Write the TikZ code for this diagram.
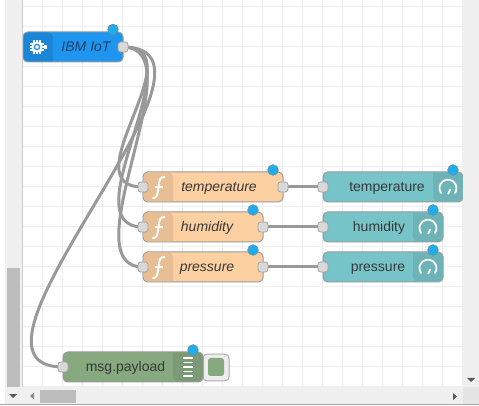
\documentclass[tikz,border=0pt]{standalone}
\usepackage{fontspec}
\setmainfont{Liberation Sans}
\pgfdeclarelayer{bg}
\pgfsetlayers{bg,main}
\definecolor{gridc}{HTML}{EEEEEE}
\definecolor{iotc}{HTML}{1E96F0}
\definecolor{iotd}{HTML}{1B86D8}
\definecolor{iott}{HTML}{1F3F66}
\definecolor{fnc}{HTML}{FDD0A2}
\definecolor{fnd}{HTML}{E8BE94}
\definecolor{gac}{HTML}{77C4C8}
\definecolor{gad}{HTML}{6DB3B7}
\definecolor{dbc}{HTML}{87A980}
\definecolor{dbd}{HTML}{7B9A75}
\definecolor{edgec}{HTML}{999999}
\definecolor{portc}{HTML}{D9D9D9}
\definecolor{wirec}{HTML}{999999}
\definecolor{badgec}{HTML}{1FADEF}
\definecolor{sbar}{HTML}{F0F0F0}
\definecolor{sthumb}{HTML}{BDBDBD}
\tikzset{
  x=0.75pt,y=-0.75pt,
  flowbox/.style={draw=edgec,line width=0.75pt,rounded corners=3.5pt,minimum height=22.5pt,inner sep=0pt},
  portbox/.style={draw=edgec!90,fill=portc,line width=0.6pt,rounded corners=2pt,minimum size=7.5pt,inner sep=0pt},
  badge/.style={circle,fill=badgec,draw=gray!70!badgec,line width=0.4pt,minimum size=8pt,inner sep=0pt},
  lab/.style={font=\fontsize{10.5}{12}\selectfont,text=black!78,inner sep=0pt,anchor=base},
  ilab/.style={lab,font=\fontsize{10.5}{12}\selectfont\itshape},
  wire/.style={draw=wirec,line width=2.25pt},
  icw/.style={draw=white,line width=1.3pt,line cap=round},
}
\newcommand{\iconL}[5]{\fill[#1,rounded corners=3.5pt] (#3,#5) -- (#2,#5) -- (#2,#4) -- (#3,#4) [sharp corners] -- cycle;}
\begin{document}
\begin{tikzpicture}
\useasboundingbox (0,0) rectangle (479,406);
% boxes
\node[flowbox,fill=iotc,minimum width=75pt] (iot) at (73,47) {};
\node[flowbox,fill=fnc,minimum width=105pt] (ft) at (213,187) {};
\node[flowbox,fill=fnc,minimum width=90pt] (fh) at (203,227) {};
\node[flowbox,fill=fnc,minimum width=90pt] (fp) at (203,267) {};
\node[flowbox,fill=gac,minimum width=105pt] (gt) at (393,187) {};
\node[flowbox,fill=gac,minimum width=90pt] (gh) at (383,227) {};
\node[flowbox,fill=gac,minimum width=90pt] (gp) at (383,267) {};
\node[draw=edgec!80,fill=white!93!black,rounded corners=3pt,line width=0.75pt,minimum width=19.5pt,minimum height=20pt,inner sep=0pt] (btn) at (216,367.5) {};
\node[flowbox,fill=dbc,minimum width=105pt] (dbg) at (133,367) {};
\node[fill=dbc,rounded corners=2pt,minimum width=12pt,minimum height=13.5pt,inner sep=0pt] (btnin) at (216,367) {};
% icon panels
\iconL{iotd}{23.5}{53}{32.5}{61.5}
\iconL{fnd}{143.5}{173}{172.5}{201.5}
\iconL{fnd}{143.5}{173}{212.5}{241.5}
\iconL{fnd}{143.5}{173}{252.5}{281.5}
\fill[gad,rounded corners=3.5pt] (433,172.5) -- (462.5,172.5) -- (462.5,201.5) -- (433,201.5) [sharp corners] -- cycle;
\fill[gad,rounded corners=3.5pt] (413,212.5) -- (442.5,212.5) -- (442.5,241.5) -- (413,241.5) [sharp corners] -- cycle;
\fill[gad,rounded corners=3.5pt] (413,252.5) -- (442.5,252.5) -- (442.5,281.5) -- (413,281.5) [sharp corners] -- cycle;
\fill[dbd,rounded corners=3.5pt] (173,352.5) -- (202.5,352.5) -- (202.5,381.5) -- (173,381.5) [sharp corners] -- cycle;
% labels
\node[ilab,text=iott] (tiot) at (86,52) {IBM IoT};
\node[ilab] (tft) at (219,192) {temperature};
\node[ilab] (tfh) at (207,232) {humidity};
\node[ilab] (tfp) at (207,272) {pressure};
\node[lab] (tgt) at (387,192) {temperature};
\node[lab] (tgh) at (379,232) {humidity};
\node[lab] (tgp) at (378,272) {pressure};
\node[lab] (tdb) at (125.5,372) {msg.payload};
% function icons
\foreach \yy in {187,227,267}{
  \draw[draw=white,line width=1.4pt,line cap=round] (153,\yy+11) .. controls (157,\yy+11) and (157.5,\yy+8) .. (158.5,\yy) .. controls (159.5,\yy-8) and (160,\yy-10) .. (164.5,\yy-10);
  \draw[draw=white,line width=1.1pt] (154.5,\yy) -- (163,\yy);
}
% gauge icons
\foreach \xx/\yy in {448/188,428/228,428/268}{
  \draw[icw] (\xx-7,\yy+5) arc[start angle=-215,end angle=35,radius=8.5];
  \draw[draw=white,line width=1.2pt] (\xx,\yy+6) -- (\xx+2.5,\yy+1);
}
% debug icon
\foreach \yy in {358,362.5,367,371.5,376}{
  \draw[draw=white,line width=1.1pt] (183,\yy) -- (193,\yy);
}
% iot icon
\draw[white,line width=1pt] (30,44) -- (44,44) (30,47) -- (44,47) (30,50) -- (44,50) (34,40) -- (34,54) (37,40) -- (37,54) (40,40) -- (40,54);
\fill[white,rounded corners=1pt] (32,42) rectangle (42,52);
\draw[iotc,line width=1pt] (37,47) circle[radius=2.6];
\fill[white] (44,45) rectangle (47,49);
% ports
\node[portbox] (piot) at (123,47) {};
\node[portbox] (pfti) at (143,187) {};
\node[portbox] (pfto) at (283,187) {};
\node[portbox] (pfhi) at (143,227) {};
\node[portbox] (pfho) at (263,227) {};
\node[portbox] (pfpi) at (143,267) {};
\node[portbox] (pfpo) at (263,267) {};
\node[portbox] (pgti) at (323,187) {};
\node[portbox] (pghi) at (323,227) {};
\node[portbox] (pgpi) at (323,267) {};
\node[portbox] (pdbi) at (63,367) {};
% badges
\node[badge] (biot) at (113,29.5) {};
\node[badge] (bft) at (273,170) {};
\node[badge] (bfh) at (253,210) {};
\node[badge] (bfp) at (253,250) {};
\node[badge] (bgt) at (453,170) {};
\node[badge] (bgh) at (433,210) {};
\node[badge] (bgp) at (433,250) {};
\node[badge] (bdb) at (193,350) {};
% grid + wires behind
\begin{pgfonlayer}{bg}
  \fill[white] (0,0) rectangle (479,406);
  \foreach \gx in {42,62,...,462}{\draw[gridc,line width=0.75pt] (\gx,0) -- (\gx,387);}
  \foreach \gy in {7,27,...,387}{\draw[gridc,line width=0.75pt] (22,\gy) -- (463,\gy);}
  \path[wire] (piot.center) .. controls (198,47) and (68,187) .. (pfti.center);
  \path[wire] (piot.center) .. controls (198,47) and (68,227) .. (pfhi.center);
  \path[wire] (piot.center) .. controls (198,47) and (68,267) .. (pfpi.center);
  \path[wire] (piot.center) .. controls (253,47) and (-67,367) .. (pdbi.center);
  \path[wire] (pfto.center) -- (pgti.center);
  \path[wire] (pfho.center) -- (pghi.center);
  \path[wire] (pfpo.center) -- (pgpi.center);
\end{pgfonlayer}
% scrollbars
\fill[sbar] (5,0) rectangle (22,387);
\draw[gray!40,line width=0.5pt] (22,0) -- (22,387);
\fill[sthumb] (7,268) rectangle (20,387);
\fill[sbar] (463,0) rectangle (479,387);
\fill[sbar] (5,387) rectangle (479,404);
\fill[black!10] (463,387) rectangle (479,404);
\fill[sthumb] (40,390) rectangle (76,403);
\draw[gray!70,line width=0.75pt] (0,404.5) -- (479,404.5);
\fill[black!65] (467,378) -- (475,378) -- (471,382) -- cycle;
\fill[black!65] (9,394) -- (17,394) -- (13,398) -- cycle;
\fill[black!45] (34,392.5) -- (34,399.5) -- (30,396) -- cycle;
\fill[black!65] (453,393) -- (453,400) -- (457,396.5) -- cycle;
\end{tikzpicture}
\end{document}
